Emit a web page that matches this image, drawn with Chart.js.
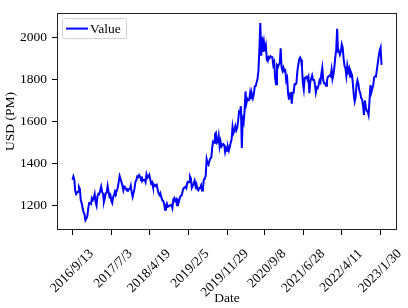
<!DOCTYPE html>
<html>
<head>
<meta charset="utf-8">
<script src="https://cdn.jsdelivr.net/npm/chart.js@4.4.0/dist/chart.umd.min.js"></script>
<style>
  html, body { margin: 0; padding: 0; background: #fff; }
</style>
</head>
<body>
<canvas id="chart" width="408" height="308"></canvas>
<script>
// LBMA gold, USD (PM) - one reading per week starting 2016/9/13
const startDate = '2016/9/13';
const tickLabels = ['2016/9/13', '2017/7/3', '2018/4/19', '2019/2/5', '2019/11/29',
  '2020/9/8', '2021/6/28', '2022/4/11', '2023/1/30'];
const yTicks = [1200, 1400, 1600, 1800, 2000];

const gold2016 = [1323, 1338, 1322, 1270, 1255, 1262, 1266, 1289, 1280, 1224, 1212, 1187, 1168, 1160, 1131, 1139];
const gold2017 = [1148, 1185, 1212, 1211, 1208, 1235, 1226, 1236, 1255, 1217, 1200, 1244, 1256,
  1254, 1272, 1290, 1266, 1256, 1218, 1236, 1259, 1262, 1293, 1266, 1243, 1250,
  1222, 1212, 1242, 1250, 1268, 1260, 1273, 1286, 1314, 1340, 1326, 1311, 1294,
  1272, 1290, 1286, 1277, 1270, 1278, 1277, 1280, 1295, 1263, 1241, 1259, 1279];
const gold2018 = [1313, 1320, 1338, 1335, 1345, 1338, 1327, 1332, 1318, 1322, 1323, 1311, 1348,
  1332, 1337, 1346, 1325, 1305, 1311, 1290, 1291, 1298, 1293, 1298, 1278, 1258,
  1250, 1259, 1240, 1226, 1222, 1211, 1180, 1196, 1209, 1194, 1196, 1201, 1200,
  1203, 1188, 1230, 1236, 1222, 1229, 1201, 1224, 1218, 1238, 1246, 1248, 1267];
const gold2019 = [1282, 1285, 1289, 1282, 1308, 1314, 1311, 1338, 1328, 1285, 1296, 1304, 1318,
  1291, 1302, 1277, 1272, 1283, 1283, 1296, 1272, 1280, 1325, 1327, 1343, 1420,
  1401, 1394, 1411, 1424, 1427, 1474, 1504, 1498, 1538, 1545, 1498, 1503, 1531,
  1480, 1505, 1481, 1489, 1492, 1487, 1454, 1473, 1460, 1478, 1461, 1478, 1499, 1515];
const gold2020 = [1574, 1545, 1557, 1577, 1557, 1569, 1601, 1645, 1640, 1672, 1474, 1610, 1595,
  1650, 1742, 1686, 1707, 1700, 1702, 1736, 1710, 1728, 1710, 1729, 1766, 1768,
  1785, 1802, 1842, 1942, 2067, 1912, 2001, 1930, 1972, 1932, 1957, 1893, 1886,
  1905, 1900, 1909, 1906, 1905, 1868, 1880, 1806, 1776, 1865, 1857, 1871, 1875];
const gold2021 = [1947, 1856, 1840, 1855, 1838, 1842, 1793, 1806, 1733, 1703, 1732, 1734, 1684,
  1736, 1736, 1776, 1776, 1781, 1836, 1868, 1895, 1903, 1893, 1858, 1781, 1751,
  1806, 1808, 1812, 1798, 1811, 1734, 1787, 1803, 1818, 1797, 1800, 1776, 1737,
  1761, 1758, 1773, 1795, 1786, 1827, 1855, 1795, 1780, 1780, 1769, 1795, 1811];
const gold2022 = [1814, 1818, 1814, 1846, 1801, 1822, 1856, 1904, 1938, 2039, 1930, 1931, 1916,
  1930, 1966, 1951, 1899, 1864, 1852, 1816, 1864, 1837, 1851, 1812, 1833, 1821,
  1780, 1727, 1695, 1716, 1773, 1794, 1777, 1746, 1734, 1710, 1704, 1673, 1630,
  1699, 1667, 1650, 1648, 1630, 1697, 1772, 1738, 1755, 1771, 1808, 1814, 1813];
const gold2023 = [1846, 1877, 1910, 1936, 1950, 1868];

const FONT = "'Liberation Serif', 'Times New Roman', serif";
const FS = 13.5;

function dayOffset(s) {
  const [y, m, d] = s.split('/').map(Number);
  const [y0, m0, d0] = startDate.split('/').map(Number);
  return Math.round((Date.UTC(y, m - 1, d) - Date.UTC(y0, m0 - 1, d0)) / 86400000);
}

const values = [].concat(gold2016, gold2017, gold2018, gold2019, gold2020, gold2021, gold2022, gold2023);
const points = values.map((v, i) => ({ x: i * 7, y: v }));
const tickDays = tickLabels.map(dayOffset);

// matplotlib style frame + legend box
const framePlugin = {
  id: 'frame',
  afterDraw(chart) {
    const { ctx, chartArea: a } = chart;
    ctx.save();
    ctx.strokeStyle = '#222';
    ctx.lineWidth = 1;
    ctx.strokeRect(Math.round(a.left) + 0.5, Math.round(a.top) + 0.5,
      Math.round(a.right - a.left) - 1, Math.round(a.bottom - a.top) - 1);

    // legend
    const lx = a.left + 5, ly = a.top + 5, lw = 64, lh = 20;
    ctx.beginPath();
    ctx.roundRect(lx + 0.5, ly + 0.5, lw, lh, 2);
    ctx.fillStyle = 'rgba(255,255,255,0.8)';
    ctx.fill();
    ctx.strokeStyle = '#d0d0d0';
    ctx.stroke();
    ctx.beginPath();
    ctx.moveTo(lx + 4, ly + 10.5);
    ctx.lineTo(lx + 26, ly + 10.5);
    ctx.strokeStyle = '#0000ff';
    ctx.lineWidth = 2;
    ctx.stroke();
    ctx.fillStyle = '#000';
    ctx.font = FS + 'px ' + FONT;
    ctx.textBaseline = 'middle';
    ctx.textAlign = 'left';
    ctx.fillText('Value', lx + 28, ly + 11);
    ctx.restore();
  }
};

new Chart(document.getElementById('chart'), {
  type: 'line',
  data: {
    datasets: [{
      label: 'Value',
      data: points,
      borderColor: '#0000ff',
      borderWidth: 2,
      pointRadius: 0,
      tension: 0,
      fill: false
    }]
  },
  options: {
    responsive: false,
    animation: false,
    layout: { padding: { left: 0, right: 11, top: 8, bottom: 0 } },
    plugins: { legend: { display: false }, tooltip: { enabled: false } },
    scales: {
      x: {
        type: 'linear',
        min: -117,
        max: 2455,
        afterBuildTicks: s => { s.ticks = tickDays.map(v => ({ value: v })); },
        afterFit: s => { s.height = 78; },
        grid: { drawOnChartArea: false, drawTicks: true, tickLength: 5, color: '#000' },
        border: { display: false },
        ticks: {
          autoSkip: false,
          minRotation: 45,
          maxRotation: 45,
          padding: 11,
          labelOffset: 19,
          color: '#000',
          font: { family: FONT, size: FS },
          callback: (v, i) => tickLabels[i]
        },
        title: { display: true, text: 'Date', color: '#000', font: { family: FONT, size: FS }, padding: { top: 0, bottom: 1 } }
      },
      y: {
        min: 1084,
        max: 2114,
        afterBuildTicks: s => { s.ticks = yTicks.map(v => ({ value: v })); },
        afterFit: s => { s.width = 57; },
        grid: { drawOnChartArea: false, drawTicks: true, tickLength: 5, color: '#000' },
        border: { display: false },
        ticks: { padding: 5, color: '#000', font: { family: FONT, size: FS }, callback: v => String(v) },
        title: { display: true, text: 'USD (PM)', color: '#000', font: { family: FONT, size: FS }, padding: { top: 2.5, bottom: 0 } }
      }
    }
  },
  plugins: [framePlugin]
});
</script>
</body>
</html>
